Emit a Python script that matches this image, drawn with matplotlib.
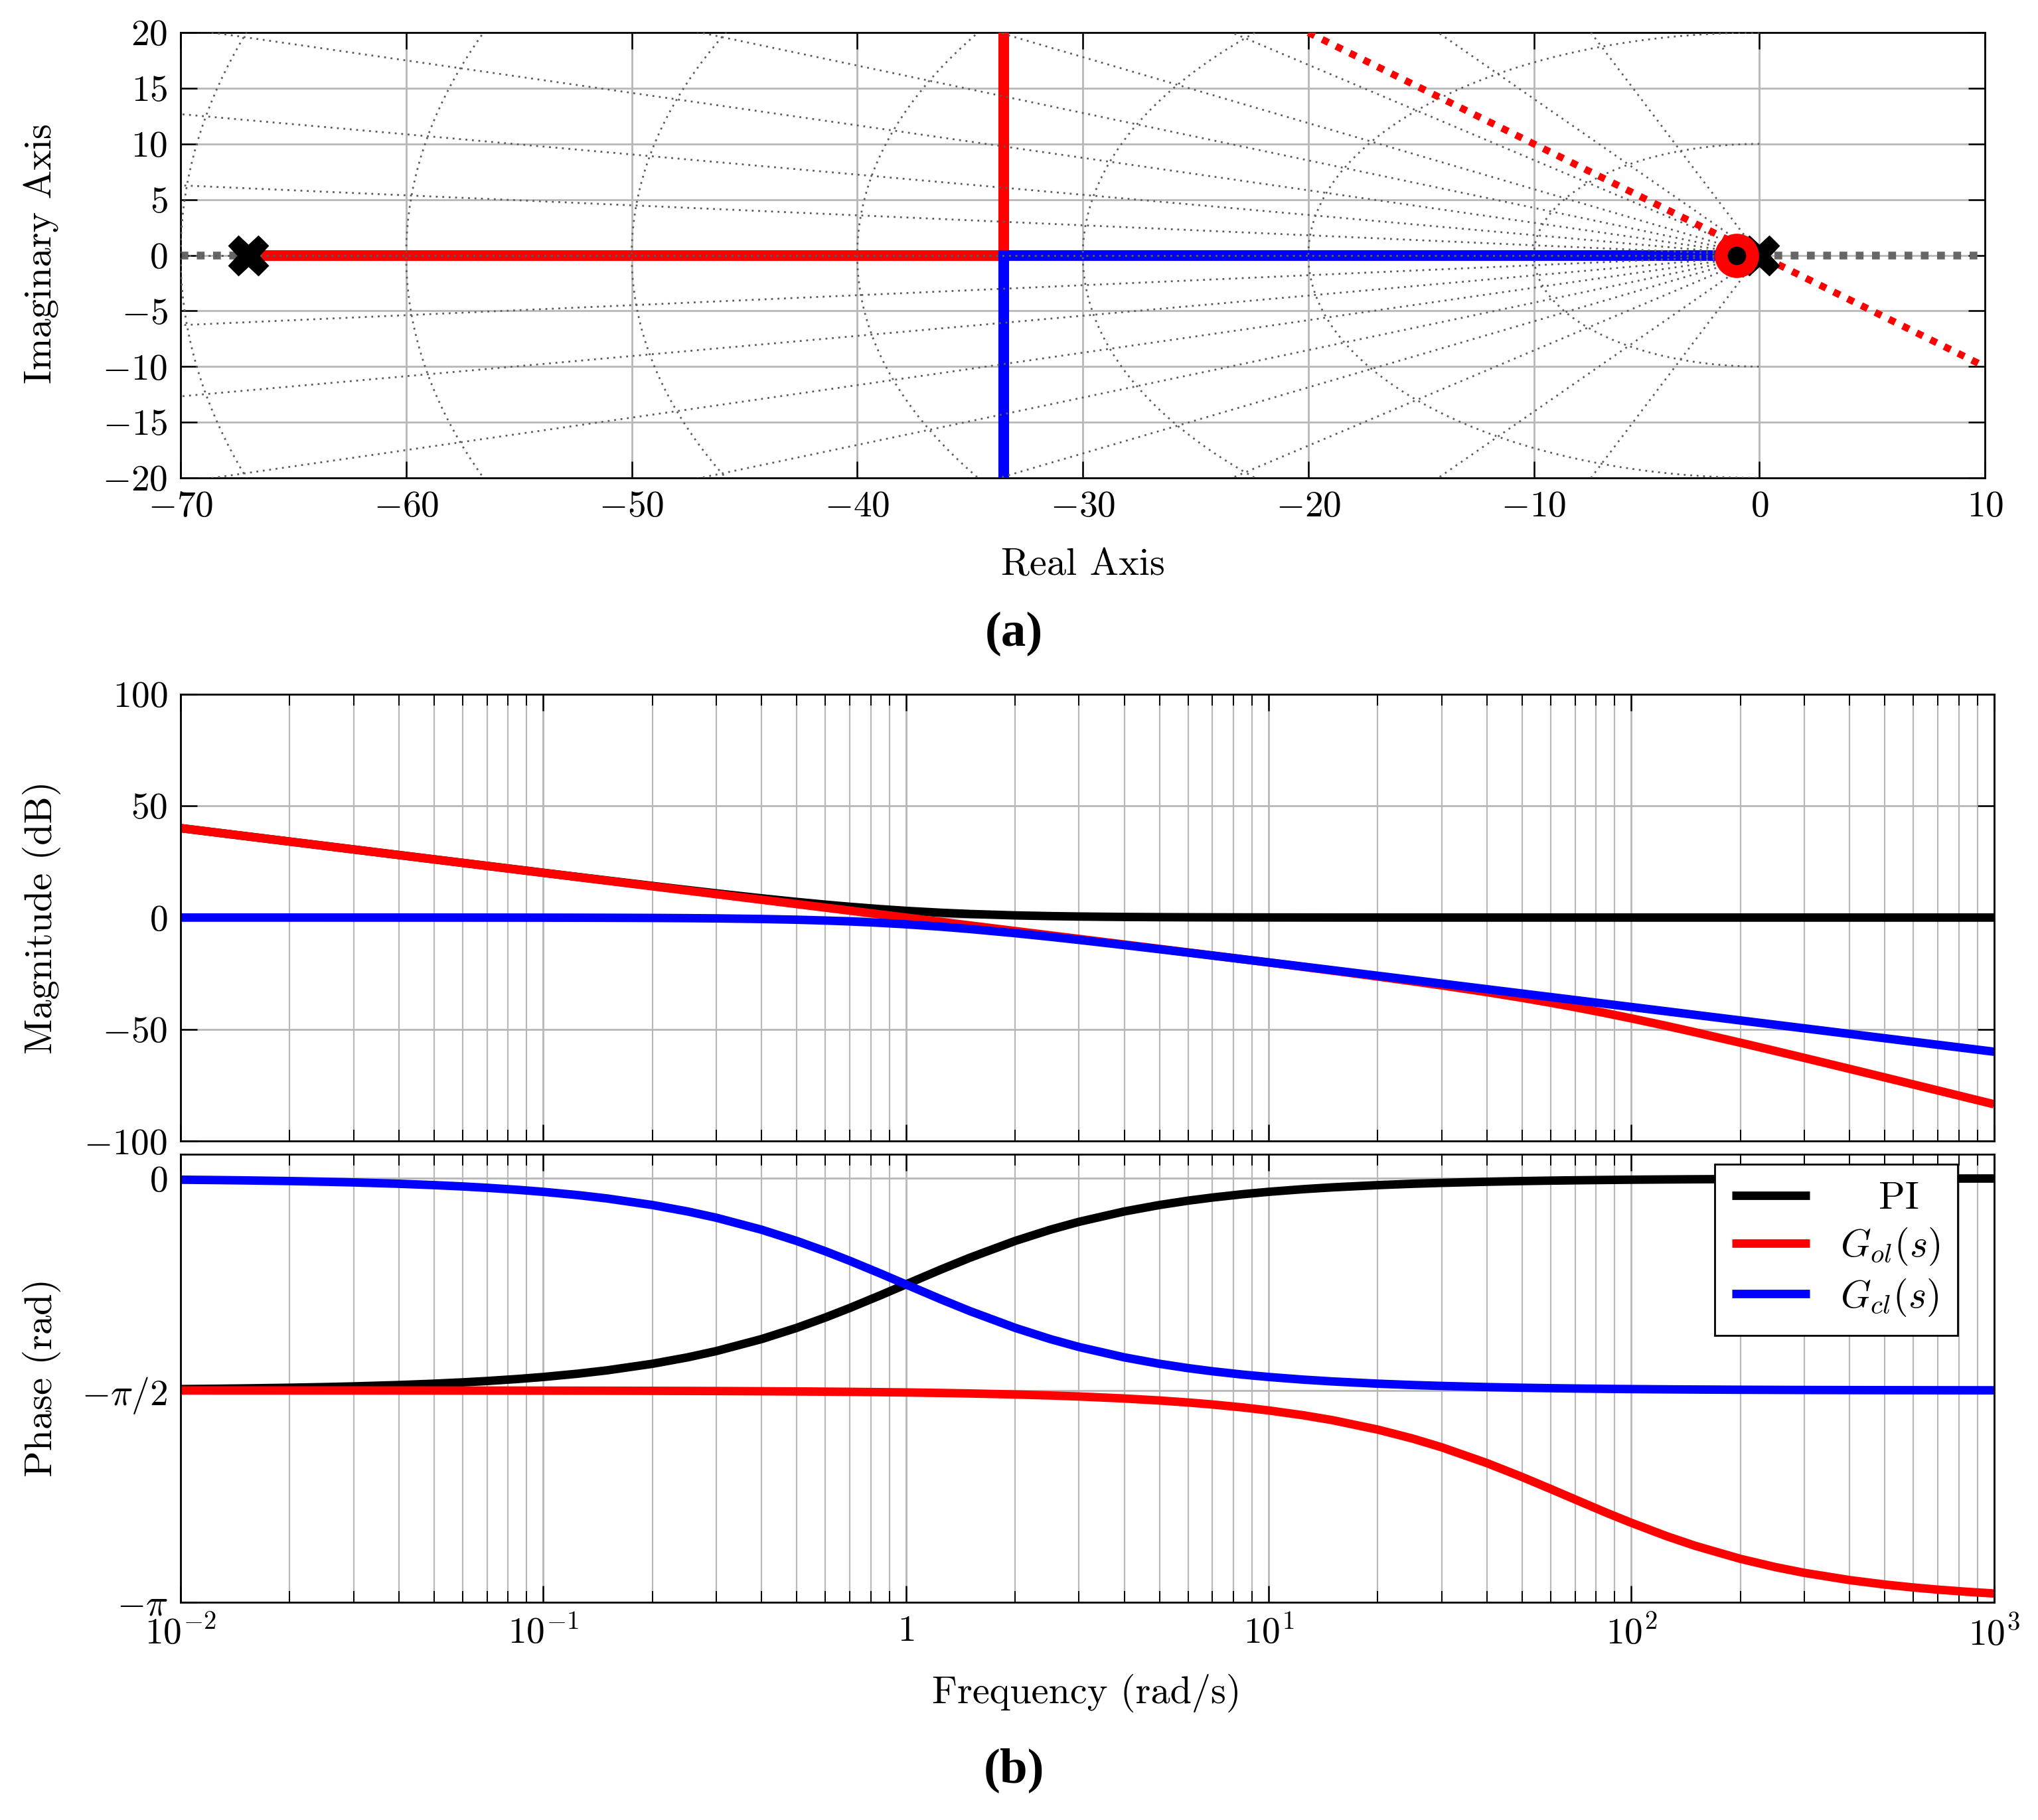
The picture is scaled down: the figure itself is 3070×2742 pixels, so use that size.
import numpy as np
import matplotlib
matplotlib.use('Agg')
import matplotlib.pyplot as plt

plt.rcParams['font.family'] = 'serif'
plt.rcParams['font.serif'] = ['cmr10', 'DejaVu Serif']
plt.rcParams['mathtext.fontset'] = 'cm'
plt.rcParams['axes.formatter.use_mathtext'] = True

# ---- (a) root locus -------------------------------------------------------
ol_poles = [-67.0, 0.0]
ol_zeros = [-1.0]
cl_poles = [-1.0]
branch_red_x = [-67.0, -33.5, -33.5]
branch_red_y = [0.0, 0.0, 20.0]
branch_blue_x = [0.0, -33.5, -33.5]
branch_blue_y = [0.0, 0.0, -20.0]
zeta_line_x = [-20.0, 10.0]
zeta_line_y = [20.0, -10.0]
# damping ratios / natural frequencies of the s-plane grid
sgrid_zeta = [1.0, 0.996, 0.984, 0.96, 0.92, 0.86, 0.76, 0.58, 0.35]
sgrid_wn = [10, 20, 30, 40, 50, 60, 70]

# ---- (b) bode -------------------------------------------------------------
freq = [0.01, 0.0125, 0.015, 0.02, 0.025, 0.03, 0.04, 0.05, 0.06, 0.07, 0.085,
        0.1, 0.125, 0.15, 0.2, 0.25, 0.3, 0.4, 0.5, 0.6, 0.7, 0.85,
        1, 1.25, 1.5, 2, 2.5, 3, 4, 5, 6, 7, 8.5,
        10, 12.5, 15, 20, 25, 30, 40, 50, 60, 70, 85,
        100, 125, 150, 200, 250, 300, 400, 500, 600, 700, 850, 1000]
pi_mag = [40.000, 38.063, 36.479, 33.981, 32.044, 30.462, 27.966, 26.031, 24.453, 23.119, 21.443,
          20.043, 18.129, 16.575, 14.150, 12.305, 10.832, 8.603, 6.990, 5.772, 4.830, 3.773,
          3.010, 2.148, 1.597, 0.969, 0.645, 0.458, 0.263, 0.170, 0.119, 0.088, 0.060,
          0.043, 0.028, 0.019, 0.011, 0.007, 0.005, 0.003, 0.002, 0.001, 0.001, 0.001,
          0.0, 0.0, 0.0, 0.0, 0.0, 0.0, 0.0, 0.0, 0.0, 0.0, 0.0, 0.0]
ol_mag = [40.000, 38.062, 36.478, 33.979, 32.041, 30.458, 27.959, 26.021, 24.437, 23.098, 21.412,
          20.000, 18.062, 16.478, 13.979, 12.041, 10.457, 7.958, 6.020, 4.436, 3.097, 1.411,
          -0.001, -1.940, -3.524, -6.025, -7.965, -9.551, -12.057, -14.004, -15.598, -16.949, -18.658,
          -20.096, -22.087, -23.734, -26.391, -28.525, -30.336, -33.366, -35.902, -38.121, -40.107, -42.754,
          -45.089, -48.452, -51.312, -55.982, -59.697, -62.775, -67.681, -71.515, -74.658, -77.322,
          -80.682, -83.498]
cl_mag = [-0.0004, -0.0007, -0.0010, -0.0017, -0.0027, -0.0039, -0.0069, -0.0108, -0.0156, -0.0212, -0.0313,
          -0.0432, -0.0673, -0.0966, -0.1703, -0.2633, -0.3743, -0.6446, -0.9691, -1.3354, -1.7319, -2.3616,
          -3.0103, -4.0866, -5.1188, -6.9897, -8.6034, -10.000, -12.3045, -14.1497, -15.6820, -16.9897, -18.6481,
          -20.0432, -21.9659, -23.5411, -26.0314, -27.9657, -29.5472, -32.0439, -33.9811, -35.5643, -36.9029,
          -38.5890, -40.0004, -41.9385, -43.5219, -46.0207, -47.9589, -49.5425, -52.0412, -53.9794, -55.5630,
          -56.9020, -58.5884, -60.000]
pi_phase = [-1.5608, -1.5583, -1.5558, -1.5508, -1.5458, -1.5408, -1.5308, -1.5208, -1.5109, -1.5009, -1.4860,
            -1.4711, -1.4464, -1.4219, -1.3734, -1.3258, -1.2793, -1.1903, -1.1071, -1.0304, -0.9601, -0.8663,
            -0.7854, -0.6747, -0.5880, -0.4636, -0.3805, -0.3218, -0.2450, -0.1974, -0.1651, -0.1419, -0.1171,
            -0.0997, -0.0798, -0.0666, -0.0500, -0.0400, -0.0333, -0.0250, -0.0200, -0.0167, -0.0143, -0.0118,
            -0.0100, -0.0080, -0.0067, -0.0050, -0.0040, -0.0033, -0.0025, -0.0020, -0.0017, -0.0014, -0.0012,
            -0.0010]
ol_phase = [-1.5709, -1.5710, -1.5710, -1.5711, -1.5712, -1.5712, -1.5714, -1.5715, -1.5717, -1.5718, -1.5721,
            -1.5723, -1.5727, -1.5730, -1.5738, -1.5745, -1.5753, -1.5768, -1.5783, -1.5798, -1.5812, -1.5835,
            -1.5857, -1.5895, -1.5932, -1.6006, -1.6081, -1.6155, -1.6304, -1.6453, -1.6601, -1.6749, -1.6970,
            -1.7190, -1.7552, -1.7910, -1.8609, -1.9279, -1.9918, -2.1090, -2.2119, -2.3011, -2.3781, -2.4744,
            -2.5512, -2.6496, -2.7215, -2.8183, -2.8797, -2.9219, -2.9756, -3.0084, -3.0304, -3.0462, -3.0629,
            -3.0747]
cl_phase = [-0.0100, -0.0125, -0.0150, -0.0200, -0.0250, -0.0300, -0.0400, -0.0500, -0.0599, -0.0699, -0.0848,
            -0.0997, -0.1244, -0.1489, -0.1974, -0.2450, -0.2915, -0.3805, -0.4636, -0.5404, -0.6107, -0.7045,
            -0.7854, -0.8961, -0.9828, -1.1071, -1.1903, -1.2490, -1.3258, -1.3734, -1.4056, -1.4289, -1.4537,
            -1.4711, -1.4910, -1.5042, -1.5208, -1.5308, -1.5375, -1.5458, -1.5508, -1.5541, -1.5565, -1.5590,
            -1.5608, -1.5628, -1.5641, -1.5658, -1.5668, -1.5675, -1.5683, -1.5688, -1.5691, -1.5694, -1.5696,
            -1.5698]
series_labels = ['   PI', r'$G_{ol}(s)$', r'$G_{cl}(s)$']
series_colors = ['black', '#ff0000', '#0000ff']

FS = 20
GRID = '#b8b8b8'
SGRID = '#5c5c5c'

fig = plt.figure(figsize=(15.35, 13.71), dpi=200)


def style_axes(ax):
    for sp in ax.spines.values():
        sp.set_linewidth(1.0)
    ax.tick_params(which='major', direction='in', length=9, width=0.9,
                   top=True, right=True, labelsize=FS, pad=7)
    ax.tick_params(which='minor', direction='in', length=6, width=0.7,
                   top=True, right=True)


# ---------------- root locus ----------------
ax1 = fig.add_axes([0.0886, 0.7374, 0.8854, 0.2447])
ax1.set_xlim(-70, 10)
ax1.set_ylim(-20, 20)
ax1.grid(True, color=GRID, lw=1.0, zorder=0)
ax1.set_axisbelow(True)

ax1.plot([-70, 10], [0, 0], color='#666666', lw=4.2,
         ls=(0, (1, 1.1)), dash_capstyle='butt', zorder=2)
ax1.plot(branch_red_x, branch_red_y, color='#ff0000', lw=5.8,
         solid_joinstyle='miter', zorder=3)
ax1.plot(branch_blue_x, branch_blue_y, color='#0000ff', lw=5.8,
         solid_joinstyle='miter', zorder=3)

# s-plane grid (constant damping rays, constant natural frequency arcs)
for z in sgrid_zeta:
    th = np.arccos(z)
    for sgn in (1, -1):
        ax1.plot([0, -120 * np.cos(th)], [0, sgn * 120 * np.sin(th)],
                 color=SGRID, lw=1.0, ls=(0, (1, 2.5)), zorder=4)
ang = np.linspace(np.pi / 2, 3 * np.pi / 2, 200)
for wn in sgrid_wn:
    ax1.plot(wn * np.cos(ang), wn * np.sin(ang), color=SGRID, lw=1.0,
             ls=(0, (1, 2.5)), zorder=4)

ax1.plot(zeta_line_x, zeta_line_y, color='#ff0000', lw=3.8,
         ls=(0, (1, 1.2)), dash_capstyle='butt', zorder=5)
ax1.plot(ol_poles, [0] * len(ol_poles), 'X', color='black', ms=21,
         mec='black', zorder=6)
ax1.plot(ol_zeros, [0] * len(ol_zeros), 'o', color='#ff0000', ms=23,
         mec='#ff0000', zorder=7)
ax1.plot(cl_poles, [0] * len(cl_poles), 'o', color='black', ms=9,
         zorder=8)

ax1.set_xticks(np.arange(-70, 11, 10))
ax1.set_xticklabels(['$%d$' % v for v in np.arange(-70, 11, 10)])
ax1.set_yticks(np.arange(-20, 21, 5))
ax1.set_yticklabels(['$%d$' % v for v in np.arange(-20, 21, 5)])
style_axes(ax1)

# ---------------- bode ----------------
ax2 = fig.add_axes([0.0886, 0.3730, 0.8898, 0.2457])
ax3 = fig.add_axes([0.0886, 0.1195, 0.8898, 0.2464])

for ax in (ax2, ax3):
    ax.set_xscale('log')
    ax.set_xlim(1e-2, 1e3)
    ax.grid(True, which='major', color=GRID, lw=1.0)
    ax.grid(True, which='minor', color=GRID, lw=0.8)
    ax.set_axisbelow(True)

mags = [pi_mag, ol_mag, cl_mag]
phases = [pi_phase, ol_phase, cl_phase]
for m, c in zip(mags, series_colors):
    ax2.plot(freq, m, color=c, lw=4.6, solid_capstyle='butt')
for p, c, lab in zip(phases, series_colors, series_labels):
    ax3.plot(freq, p, color=c, lw=4.6, solid_capstyle='butt', label=lab)

ax2.set_ylim(-100, 100)
ax2.set_yticks([-100, -50, 0, 50, 100])
ax2.set_yticklabels(['$-100$', '$-50$', '$0$', '$50$', '$100$'])
ax2.set_xticks([1e-2, 1e-1, 1, 1e1, 1e2, 1e3])
ax2.tick_params(axis='x', which='both', labelbottom=False)

ax3.set_ylim(-np.pi, 0.18)
ax3.set_yticks([-np.pi, -np.pi / 2, 0])
ax3.set_yticklabels([r'$-\pi$', r'$-\pi/2$', '$0$'])
ax3.set_xticks([1e-2, 1e-1, 1, 1e1, 1e2, 1e3])
ax3.set_xticklabels(['$10^{-2}$', '$10^{-1}$', '$1$', '$10^{1}$',
                     '$10^{2}$', '$10^{3}$'])
style_axes(ax2)
style_axes(ax3)

leg = ax3.legend(loc='upper right', bbox_to_anchor=(0.98, 0.977),
                 borderaxespad=0, fontsize=21, fancybox=False,
                 framealpha=1, edgecolor='black', handlelength=2.0,
                 labelspacing=0.25, borderpad=0.45, handletextpad=0.8)
leg.get_frame().set_linewidth(1.0)

# ---------------- labels ----------------
fig.text(0.0205, 0.8607, 'Imaginary Axis', rotation=90, ha='center',
         va='center', fontsize=21)
fig.text(0.5313, 0.6893, 'Real Axis', ha='center', va='center', fontsize=21)
fig.text(0.4974, 0.6517, '(a)', ha='center', va='center', fontsize=27,
         family='Liberation Serif', fontweight='bold')
fig.text(0.0205, 0.4959, 'Magnitude (dB)', rotation=90, ha='center',
         va='center', fontsize=21)
fig.text(0.0205, 0.2432, 'Phase (rad)', rotation=90, ha='center',
         va='center', fontsize=21)
fig.text(0.5332, 0.0697, 'Frequency (rad/s)', ha='center', va='center',
         fontsize=21)
fig.text(0.4974, 0.0274, '(b)', ha='center', va='center', fontsize=27,
         family='Liberation Serif', fontweight='bold')

fig.savefig('out.png', dpi=200)
